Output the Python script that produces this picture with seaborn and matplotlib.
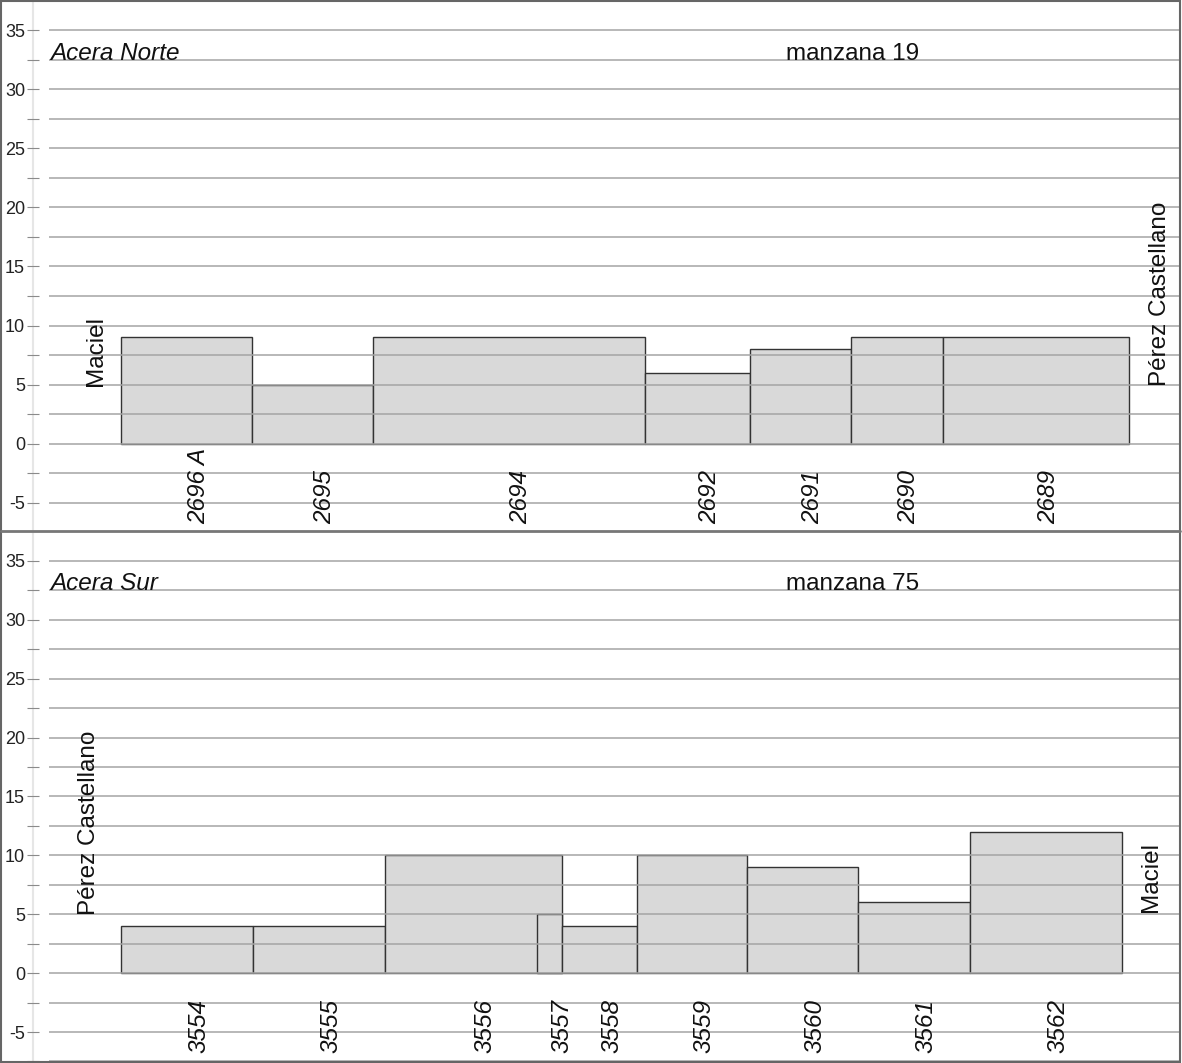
import matplotlib
matplotlib.use("Agg")
import matplotlib.pyplot as plt
from matplotlib.ticker import MultipleLocator
from matplotlib.lines import Line2D
from matplotlib.patches import Rectangle
import seaborn as sns

# Frontage data (metres from the corner) and building heights
north_lots = ["2696 A", "2695", "2694", "2692", "2691", "2690", "2689"]
north_start = [6.1, 17.2, 27.46, 50.51, 59.41, 67.97, 75.76]
north_width = [11.1, 10.26, 23.05, 8.9, 8.56, 7.79, 15.77]
north_height = [9, 5, 9, 6, 8, 9, 9]

south_lots = ["3554", "3555", "3556", "3557", "3558", "3559", "3560", "3561", "3562"]
south_start = [6.1, 17.29, 28.47, 41.36, 43.47, 49.83, 59.15, 68.56, 78.05]
south_width = [11.19, 11.18, 15.0, 2.11, 6.36, 9.32, 9.41, 9.49, 12.88]
south_height = [4, 4, 10, 5, 4, 10, 9, 6, 12]

panels = [
    dict(side="Acera Norte", block="manzana 19", left="Maciel", right="Pérez Castellano",
         lots=north_lots, start=north_start, width=north_width, height=north_height,
         ylim=(-7.46, 37.54), right_y=4.9, right_x=94.1, left_x=3.94),
    dict(side="Acera Sur", block="manzana 75", left="Pérez Castellano", right="Maciel",
         lots=south_lots, start=south_start, width=south_width, height=south_height,
         ylim=(-7.63, 37.46), right_y=5.2, right_x=93.4, left_x=3.43),
]

sns.set_theme(style="white")
plt.rcParams["font.family"] = ["Liberation Sans", "DejaVu Sans"]
plt.rcParams["axes.unicode_minus"] = False

W, H = 1182, 1063
fig = plt.figure(figsize=(W / 100, H / 100), dpi=100)

ax_left = 49 / W
ax_w = (1181 - 49) / W
boxes = [(531 / H, 1 - 531 / H), (0, 531 / H)]

for p, (b, h) in zip(panels, boxes):
    ax = fig.add_axes([ax_left, b, ax_w, h])
    ax.set_xlim(0, 95.9)
    ax.set_ylim(*p["ylim"])

    ax.bar(p["start"], p["height"], width=p["width"], align="edge",
           color="#d9d9d9", edgecolor="#333333", linewidth=1.0, zorder=1)

    ax.yaxis.set_major_locator(MultipleLocator(5))
    ax.yaxis.set_minor_locator(MultipleLocator(2.5))
    ax.grid(True, which="both", axis="y", color="#a4a4a4", linewidth=1.1, zorder=2)
    ax.set_axisbelow(False)
    ax.set_xticks([])

    for s in ["top", "right", "bottom"]:
        ax.spines[s].set_visible(False)
    ax.spines["left"].set_position(("outward", 11.5))
    ax.spines["left"].set_color("#e6e6e6")
    ax.spines["left"].set_linewidth(1.5)
    ax.tick_params(axis="y", which="both", direction="inout", length=8,
                   width=0.8, color="#8a8a8a", labelsize=13, labelcolor="#222222",
                   pad=1.8, left=True)

    for lot, x0, w in zip(p["lots"], p["start"], p["width"]):
        ax.text(x0 + w / 2 + 1.0, -6.75, lot, rotation=90, ha="center", va="bottom",
                fontsize=17.5, style="italic", color="#111111", zorder=4)

    ax.text(0.08, 32.5, p["side"], fontsize=17.5, style="italic", va="baseline",
            ha="left", color="#111111", zorder=4)
    ax.text(62.4, 32.5, p["block"], fontsize=17.5, va="baseline", ha="left",
            color="#111111", zorder=4)
    ax.text(p["left_x"], 4.9, p["left"], rotation=90, ha="center", va="bottom",
            fontsize=17.5, color="#111111", zorder=4)
    ax.text(p["right_x"], p["right_y"], p["right"], rotation=90, ha="center",
            va="bottom", fontsize=17.5, color="#111111", zorder=4)

# panel frames
fig.add_artist(Rectangle((1 / W, 1 / H), 1179 / W, 1061 / H, transform=fig.transFigure,
                         fill=False, edgecolor="#666666", linewidth=1.5))
fig.add_artist(Line2D([1 / W, 1180 / W], [532 / H, 532 / H], transform=fig.transFigure,
                      color="#777777", linewidth=2))

fig.savefig("out.png", dpi=100)
